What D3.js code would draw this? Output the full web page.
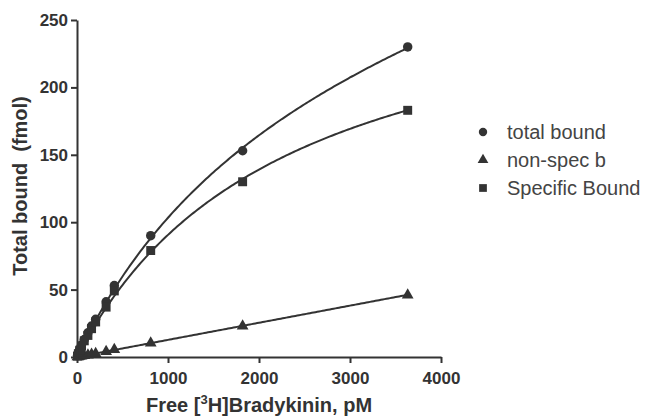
<!DOCTYPE html>
<html><head><meta charset="utf-8">
<script src="https://cdn.jsdelivr.net/npm/d3@7"></script>
<style>body{margin:0;background:#fff}svg{display:block}</style>
</head><body>
<svg id="c" width="645" height="419"></svg>
<script>
// Data (free [3H]bradykinin, pM) and bound (fmol)
const conc     = [5, 15, 30, 50, 80, 120, 160, 205, 320, 410, 810, 1820, 3634];
const total    = [1, 3, 6, 9, 13, 18, 23, 28, 41, 53, 90, 153, 230];
const specific = [0.7, 2.5, 5, 8, 12, 16, 21, 26, 37, 49, 79, 130, 183];
const nonspec  = [0.1, 0.2, 0.4, 0.6, 1, 1.5, 2, 2.6, 4, 5.5, 10.4, 23, 46];
// Fit parameters: [Bmax (fmol), Kd (pM), NS slope]
const fitParams = [299, 2300, 0.0127];
const seriesNames = ["total bound", "non-spec b", "Specific Bound"];
const xTicks = [0, 1000, 2000, 3000, 4000];
const yTicks = [0, 50, 100, 150, 200, 250];

const svg = d3.select("#c");
const col = "#333";
const font = "Liberation Sans, Arial, sans-serif";
const x = d3.scaleLinear().domain([0, 4000]).range([77, 441]);
const y = d3.scaleLinear().domain([0, 250]).range([357, 20]);

const [Bmax, Kd, NS] = fitParams;
const fits = [
  v => Bmax * v / (Kd + v) + NS * v,
  v => NS * v,
  v => Bmax * v / (Kd + v)
];
const xs = d3.range(0, 3634.1, 20);
const line = f => d3.line().x(d => x(d)).y(d => y(f(d)));
fits.forEach(f => {
  svg.append("path").attr("d", line(f)(xs)).attr("fill", "none")
    .attr("stroke", col).attr("stroke-width", 2);
});

const sym = [d3.symbolCircle, d3.symbolTriangle, d3.symbolSquare];
const sizes = [70, 60, 80];
const data = [total, nonspec, specific];
data.forEach((arr, i) => {
  svg.append("g").selectAll("path").data(arr).join("path")
    .attr("transform", (d, j) => `translate(${x(conc[j])},${y(d)})`)
    .attr("d", d3.symbol(sym[i], sizes[i])).attr("fill", col);
});

// Axes
const xAxis = svg.append("g").attr("transform", "translate(0,357)")
  .call(d3.axisBottom(x).tickValues(xTicks).tickFormat(d3.format("d")).tickSize(6).tickSizeOuter(0));
const yAxis = svg.append("g").attr("transform", "translate(77,0)")
  .call(d3.axisLeft(y).tickValues(yTicks).tickFormat(d3.format("d")).tickSize(6).tickSizeOuter(0));
[xAxis, yAxis].forEach(a => {
  a.select(".domain").attr("stroke", col).attr("stroke-width", 2);
  a.selectAll(".tick line").attr("stroke", col).attr("stroke-width", 2);
  a.selectAll("text").attr("fill", col).attr("font-family", font)
    .attr("font-size", 17).attr("font-weight", "bold");
});
xAxis.selectAll("text").attr("dy", "1.05em");
yAxis.selectAll("text").attr("x", -9);

// Axis titles
const xt = svg.append("text").attr("x", 259).attr("y", 412).attr("text-anchor", "middle")
  .attr("font-family", font).attr("font-size", 20)
  .attr("font-weight", "bold").attr("fill", col);
xt.append("tspan").text("Free [");
xt.append("tspan").text("3").attr("font-size", 13).attr("dy", -8);
xt.append("tspan").text("H]Bradykinin, pM").attr("dy", 8);

svg.append("text").attr("transform", "translate(27,186) rotate(-90)")
  .attr("text-anchor", "middle").attr("font-family", font)
  .attr("font-size", 20).attr("font-weight", "bold").attr("fill", col)
  .style("white-space", "pre").text("Total bound  (fmol)");

// Legend
const lg = svg.append("g");
seriesNames.forEach((n, i) => {
  const yy = 132 + i * 28;
  lg.append("path").attr("transform", `translate(483,${yy})`)
    .attr("d", d3.symbol(sym[i], [55, 50, 60][i])).attr("fill", col);
  lg.append("text").attr("x", 507).attr("y", yy + 7).text(n)
    .attr("font-family", font).attr("font-size", 20)
    .attr("fill", "#444");
});
</script>
</body></html>
